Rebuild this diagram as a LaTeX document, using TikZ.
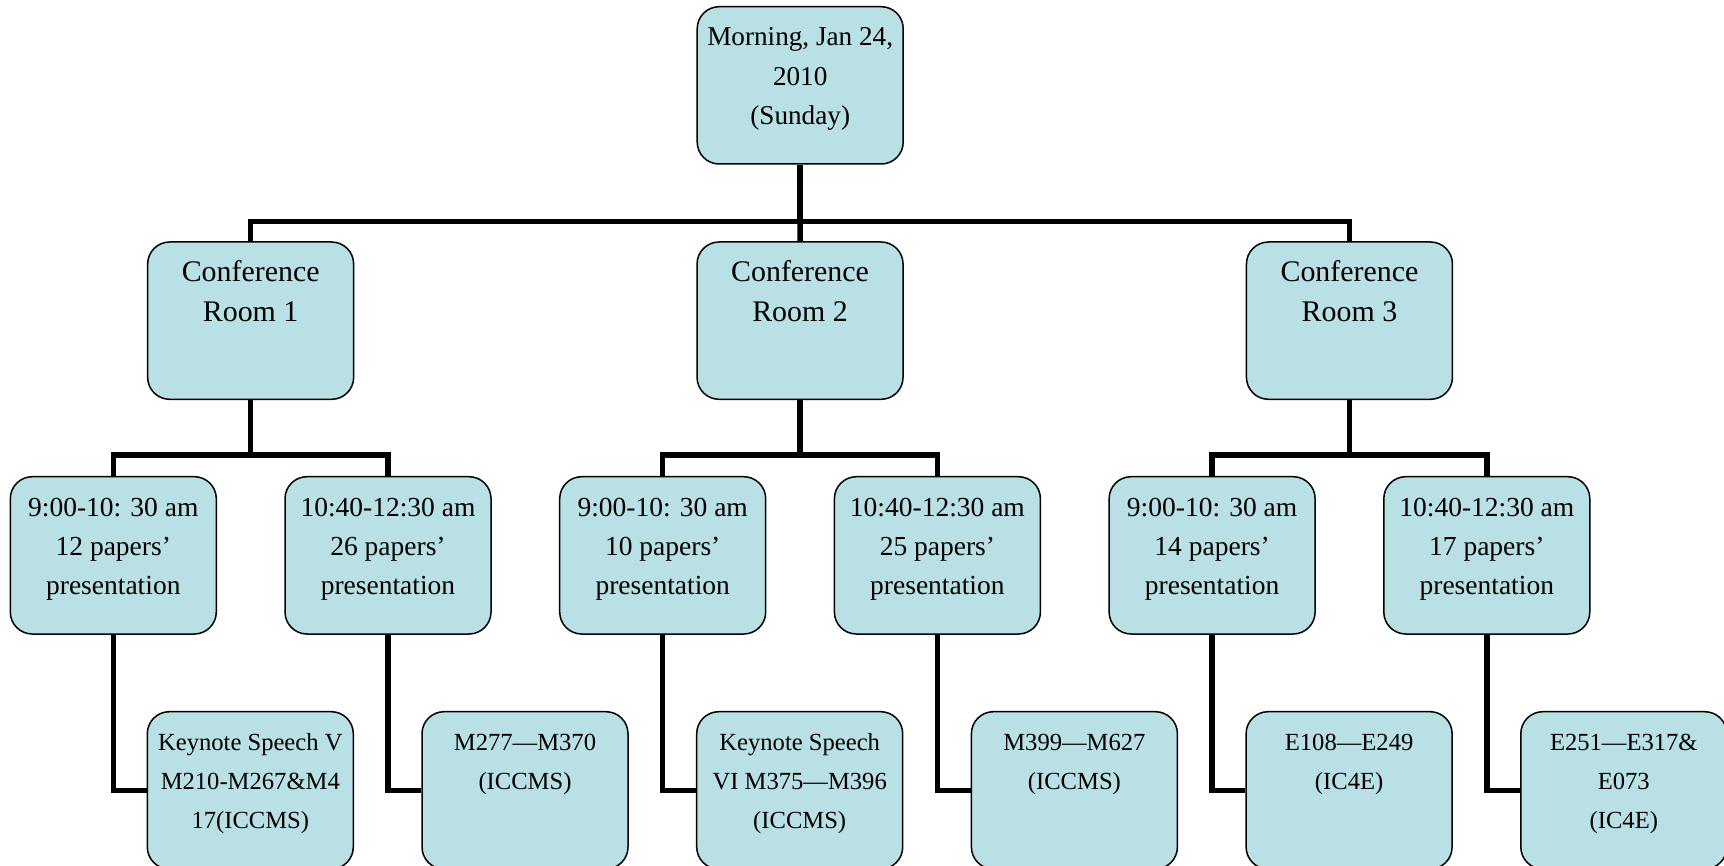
\documentclass[tikz,border=0pt]{standalone}
\usepackage{fontspec}
\setmainfont{Liberation Serif}
\definecolor{boxfill}{RGB}{185,224,228}
\newcommand{\firstln}{\rule{0pt}{30pt}}
\begin{document}
\begin{tikzpicture}[x=1pt,y=-1pt,
  box/.style={draw=black, line width=1.5pt, fill=boxfill, rounded corners=22pt,
    minimum width=206pt, minimum height=157.3pt, inner sep=0pt},
  conn/.style={draw=black, line width=5.5pt, line join=miter},
  lbl/.style={anchor=north, align=center, inner sep=0pt},
  ftop/.style={font=\fontsize{27.2}{39.6}\selectfont},
  froom/.style={font=\fontsize{29.9}{39.6}\selectfont},
  fsess/.style={font=\fontsize{27.5}{39.4}\selectfont},
  fbot/.style={font=\fontsize{24.6}{39.4}\selectfont}
]
\useasboundingbox (0,0) rectangle (1724,866);

% boxes
\node[box] (top) at (800.2,85.35) {};
\node[box] (r1) at (250.65,320.65) {};
\node[box] (r2) at (800.05,320.65) {};
\node[box] (r3) at (1349.45,320.65) {};
\node[box] (s1) at (113.3,555.35) {};
\node[box] (s2) at (388.0,555.35) {};
\node[box] (s3) at (662.7,555.35) {};
\node[box] (s4) at (937.4,555.35) {};
\node[box] (s5) at (1212.1,555.35) {};
\node[box] (s6) at (1486.8,555.35) {};
\node[box] (b1) at (250.3,790.35) {};
\node[box] (b2) at (525.0,790.35) {};
\node[box] (b3) at (799.7,790.35) {};
\node[box] (b4) at (1074.4,790.35) {};
\node[box] (b5) at (1349.1,790.35) {};
\node[box] (b6) at (1623.8,790.35) {};

% bus coordinates
\coordinate (busA) at (800,221.5);
\coordinate (busB) at (250,455);
\coordinate (busC) at (800,455);
\coordinate (busD) at (1350,455);

% connectors
\draw[conn] (top.south) -- (top.south |- busA) -| (r1.north);
\draw[conn] (top.south |- busA) -| (r3.north);
\draw[conn] (top.south |- busA) -- (r2.north);

\draw[conn] (r1.south) -- (r1.south |- busB) -| (s1.north);
\draw[conn] (r1.south |- busB) -| (s2.north);
\draw[conn] (r2.south) -- (r2.south |- busC) -| (s3.north);
\draw[conn] (r2.south |- busC) -| (s4.north);
\draw[conn] (r3.south) -- (r3.south |- busD) -| (s5.north);
\draw[conn] (r3.south |- busD) -| (s6.north);

\draw[conn] (s1.south) |- (b1.west);
\draw[conn] (s2.south) |- (b2.west);
\draw[conn] (s3.south) |- (b3.west);
\draw[conn] (s4.south) |- (b4.west);
\draw[conn] (s5.south) |- (b5.west);
\draw[conn] (s6.south) |- (b6.west);

% texts (first baseline about 39 px below each box top)
\node[lbl,ftop] (topt) at ([yshift=-9.5pt]top.north) {\firstln Morning, Jan 24,\\2010\\(Sunday)};
\node[lbl,froom] (r1t) at ([yshift=-10pt]r1.north) {\firstln Conference\\Room 1};
\node[lbl,froom] (r2t) at ([yshift=-10pt]r2.north) {\firstln Conference\\Room 2};
\node[lbl,froom] (r3t) at ([yshift=-10pt]r3.north) {\firstln Conference\\Room 3};
\node[lbl,fsess] (s1t) at ([yshift=-10pt]s1.north) {\firstln 9:00-10: 30 am\\12 papers’\\presentation};
\node[lbl,fsess] (s2t) at ([yshift=-10pt]s2.north) {\firstln 10:40-12:30 am\\26 papers’\\presentation};
\node[lbl,fsess] (s3t) at ([yshift=-10pt]s3.north) {\firstln 9:00-10: 30 am\\10 papers’\\presentation};
\node[lbl,fsess] (s4t) at ([yshift=-10pt]s4.north) {\firstln 10:40-12:30 am\\25 papers’\\presentation};
\node[lbl,fsess] (s5t) at ([yshift=-10pt]s5.north) {\firstln 9:00-10: 30 am\\14 papers’\\presentation};
\node[lbl,fsess] (s6t) at ([yshift=-10pt]s6.north) {\firstln 10:40-12:30 am\\17 papers’\\presentation};
\node[lbl,fbot] (b1t) at ([yshift=-9pt]b1.north) {\firstln Keynote Speech V\\M210-M267\&M4\\17(ICCMS)};
\node[lbl,fbot] (b2t) at ([yshift=-9pt]b2.north) {\firstln M277—M370\\(ICCMS)};
\node[lbl,fbot] (b3t) at ([yshift=-9pt]b3.north) {\firstln Keynote Speech\\VI M375—M396\\(ICCMS)};
\node[lbl,fbot] (b4t) at ([yshift=-9pt]b4.north) {\firstln M399—M627\\(ICCMS)};
\node[lbl,fbot] (b5t) at ([yshift=-9pt]b5.north) {\firstln E108—E249\\(IC4E)};
\node[lbl,fbot] (b6t) at ([yshift=-9pt]b6.north) {\firstln E251—E317\&\\E073\\(IC4E)};
\end{tikzpicture}
\end{document}
